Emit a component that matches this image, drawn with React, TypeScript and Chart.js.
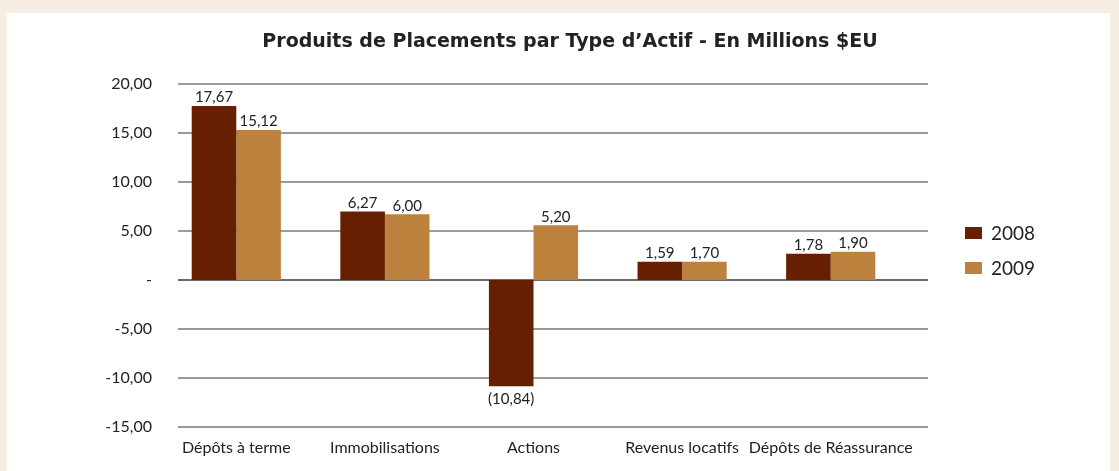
import React, { useEffect, useRef } from "react";
import { Chart, registerables } from "chart.js";

Chart.register(...registerables);

const categories = ["Dépôts à terme", "Immobilisations", "Actions", "Revenus locatifs", "Dépôts de Réassurance"];
const seriesNames = ["2008", "2009"];
// bar heights as drawn in the picture
const values2008 = [17.76, 6.98, -10.85, 1.85, 2.67];
const values2009 = [15.3, 6.7, 5.58, 1.85, 2.87];
// values printed above the bars
const labels2008 = [17.67, 6.27, -10.84, 1.59, 1.78];
const labels2009 = [15.12, 6.0, 5.2, 1.7, 1.9];
const yTicks = [-15, -10, -5, 0, 5, 10, 15, 20];
const titleText = "Produits de Placements par Type d\u2019Actif - En Millions $EU";

const colors = ["#661f00", "#bc823d"];
const FONT = "Lato, 'Open Sans', sans-serif";
const TITLE_FONT = "'DejaVu Sans', sans-serif";

const fmtLabel = (v: number) => {
  const s = Math.abs(v).toFixed(2).replace(".", ",");
  return v < 0 ? `(${s})` : s;
};
const fmtTick = (v: number) => (v === 0 ? "-" : (v < 0 ? "-" : "") + Math.abs(v).toFixed(2).replace(".", ","));

const decorPlugin = {
  id: "decor",
  beforeDatasetsDraw(chart: any) {
    const ctx = chart.ctx;
    const y = chart.scales.y;
    ctx.save();
    yTicks.forEach((t) => {
      const py = y.getPixelForValue(t);
      if (t === 5) {
        ctx.strokeStyle = "#3a3a3a";
        ctx.lineWidth = 1;
      } else if (t === 0) {
        ctx.strokeStyle = "#6a6a6a";
        ctx.lineWidth = 2;
      } else {
        ctx.strokeStyle = "#9a9a9a";
        ctx.lineWidth = 2;
      }
      ctx.beginPath();
      ctx.moveTo(178, py);
      ctx.lineTo(928, py);
      ctx.stroke();
    });
    ctx.restore();
  },
  afterDatasetsDraw(chart: any) {
    const ctx = chart.ctx;
    ctx.save();
    ctx.font = `15px ${FONT}`;
    ctx.fillStyle = "#222";
    ctx.textAlign = "center";
    const lbls = [labels2008, labels2009];
    chart.data.datasets.forEach((ds: any, di: number) => {
      const meta = chart.getDatasetMeta(di);
      meta.data.forEach((bar: any, i: number) => {
        const v = ds.data[i];
        const text = fmtLabel(lbls[di][i]);
        if (v >= 0) {
          ctx.textBaseline = "bottom";
          ctx.fillText(text, bar.x, bar.y - 1);
        } else {
          ctx.textBaseline = "top";
          ctx.fillText(text, bar.x, bar.y + 5);
        }
      });
    });
    // title
    ctx.font = `bold 18px ${TITLE_FONT}`;
    const w = ctx.measureText(titleText).width;
    const size = Math.min(19, (18 * 630) / w);
    ctx.font = `bold ${size.toFixed(2)}px ${TITLE_FONT}`;
    ctx.fillStyle = "#222";
    ctx.textBaseline = "middle";
    ctx.fillText(titleText, 570, 42);
    // legend
    ctx.font = `19px ${FONT}`;
    ctx.textAlign = "left";
    chart.data.datasets.forEach((ds: any, di: number) => {
      const cy = 233 + di * 35;
      ctx.fillStyle = ds.backgroundColor;
      ctx.fillRect(965, cy - 6, 17, 12);
      ctx.fillStyle = "#222";
      ctx.fillText(ds.label, 991, cy + 1);
    });
    ctx.restore();
  },
};

export default function App() {
  const ref = useRef<HTMLCanvasElement | null>(null);
  useEffect(() => {
    if (!ref.current) return;
    const chart = new Chart(ref.current, {
      type: "bar",
      data: {
        labels: categories,
        datasets: [
          { label: seriesNames[0], data: values2008, backgroundColor: colors[0], categoryPercentage: 0.6, barPercentage: 1 },
          { label: seriesNames[1], data: values2009, backgroundColor: colors[1], categoryPercentage: 0.6, barPercentage: 1 },
        ],
      },
      options: {
        animation: false,
        responsive: false,
        layout: { padding: { top: 84, right: 214, bottom: 0, left: 0 } },
        plugins: { legend: { display: false }, title: { display: false }, tooltip: { enabled: false } },
        scales: {
          x: {
            grid: { display: false, drawTicks: false },
            border: { display: false },
            ticks: { color: "#222", font: { family: FONT, size: 16 }, padding: 11, maxRotation: 0, autoSkip: false },
            afterFit: (s: any) => { s.height = 44; },
          },
          y: {
            min: -15,
            max: 20,
            grid: { display: false, drawTicks: false },
            border: { display: false },
            afterBuildTicks: (s: any) => { s.ticks = yTicks.map((v) => ({ value: v })); },
            ticks: { color: "#222", font: { family: FONT, size: 16 }, padding: 10, callback: (v: any) => fmtTick(Number(v)) },
            afterFit: (s: any) => { s.width = 162; },
          },
        },
      },
      plugins: [decorPlugin],
    });
    return () => chart.destroy();
  }, []);
  return (
    <div style={{ position: "fixed", left: 0, top: 0, width: 1119, height: 471, background: "#f7ede3", overflow: "hidden" }}>
      <div style={{ position: "absolute", left: 7, top: 13, width: 1103, height: 460, background: "#ffffff" }} />
      <canvas ref={ref} width={1119} height={471} style={{ position: "absolute", left: 0, top: 0, width: 1119, height: 471 }} />
    </div>
  );
}
